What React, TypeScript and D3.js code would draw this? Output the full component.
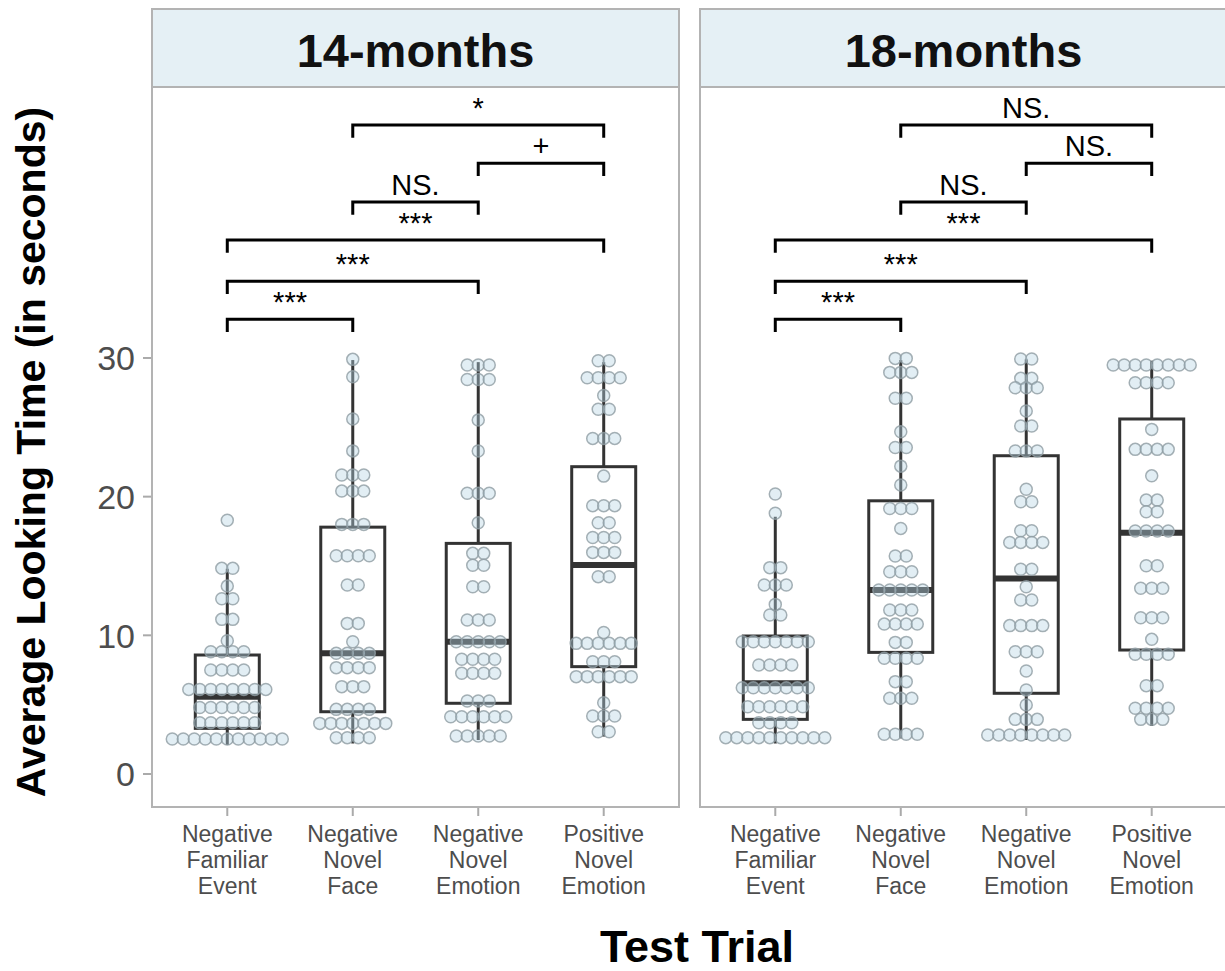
import * as d3 from 'd3';

const [W, H] = [1225, 971];

const facets = ['14-months', '18-months'];
const categories = [
  ['Negative', 'Familiar', 'Event'],
  ['Negative', 'Novel', 'Face'],
  ['Negative', 'Novel', 'Emotion'],
  ['Positive', 'Novel', 'Emotion'],
];
const yTicks = [0, 10, 20, 30];

// dotplot bins: [value, count]
const dots14NFE = [[18.3, 1], [14.83, 2], [13.55, 1], [12.64, 2], [11.15, 2], [9.61, 1], [8.82, 4], [7.5, 4], [6.1, 8], [4.8, 6], [3.7, 6], [2.52, 11]];
const dots14NNF = [[29.9, 1], [28.65, 1], [25.6, 1], [23.3, 1], [21.56, 3], [20.4, 3], [18.0, 3], [15.74, 4], [13.63, 2], [10.86, 2], [9.54, 1], [8.7, 4], [7.67, 4], [6.3, 3], [4.66, 4], [3.65, 7], [2.62, 4]];
const dots14NNE = [[29.49, 3], [28.45, 3], [25.52, 1], [23.29, 1], [20.24, 3], [18.12, 1], [15.91, 2], [15.05, 2], [13.5, 2], [11.1, 3], [9.54, 5], [8.27, 4], [7.26, 4], [5.26, 3], [4.13, 6], [2.74, 5]];
const dots14PNE = [[29.8, 2], [28.57, 4], [27.3, 1], [26.3, 2], [24.2, 3], [21.48, 1], [19.35, 3], [18.12, 2], [17.06, 3], [15.98, 3], [14.23, 2], [10.2, 1], [9.42, 6], [8.1, 3], [7.02, 6], [5.14, 1], [4.18, 3], [3.05, 2]];
const dots18NFE = [[20.19, 1], [18.8, 1], [14.88, 2], [13.63, 3], [12.23, 1], [11.46, 2], [9.54, 7], [7.86, 4], [6.22, 7], [4.85, 6], [3.7, 4], [2.62, 10]];
const dots18NNF = [[29.97, 2], [28.96, 3], [27.09, 2], [24.68, 1], [23.55, 2], [22.2, 1], [20.84, 1], [19.15, 3], [17.71, 1], [15.72, 2], [14.59, 3], [13.27, 5], [11.82, 3], [10.81, 4], [9.49, 2], [8.34, 4], [6.66, 2], [5.46, 3], [2.86, 4]];
const dots18NNE = [[29.92, 2], [28.53, 2], [27.85, 3], [26.17, 1], [25.09, 2], [23.29, 3], [20.53, 1], [19.63, 2], [17.54, 2], [16.7, 4], [14.76, 2], [13.5, 1], [12.55, 2], [10.7, 4], [8.82, 3], [7.43, 1], [6.06, 1], [4.97, 1], [3.94, 3], [2.81, 8]];
const dots18PNE = [[29.49, 8], [28.21, 4], [24.85, 1], [23.41, 4], [21.5, 1], [19.75, 2], [18.91, 2], [17.52, 4], [15.02, 2], [13.39, 3], [11.27, 3], [9.71, 1], [8.63, 4], [6.37, 2], [4.74, 4], [3.94, 3]];

// boxes: [lower whisker, q1, median, q3, upper whisker]
const box14 = [[2.1, 3.29, 5.57, 8.58, 14.8], [2.2, 4.49, 8.7, 17.8, 29.85], [2.45, 5.1, 9.54, 16.63, 29.7], [2.7, 7.74, 15.07, 22.16, 29.7]];
const box18 = [[2.2, 3.94, 6.54, 9.95, 18.55], [2.57, 8.77, 13.27, 19.7, 29.85], [2.45, 5.82, 14.1, 22.95, 29.9], [3.46, 8.94, 17.4, 25.6, 29.8]];

// significance brackets
const bracketPairs = [[1, 3], [2, 3], [1, 2], [0, 3], [0, 2], [0, 1]];
const bracketY = [46.8, 44.05, 41.24, 38.5, 35.54, 32.8];
const labels14 = ['*', '+', 'NS.', '***', '***', '***'];
const labels18 = ['NS.', 'NS.', 'NS.', '***', '***', '***'];

const dots = [[dots14NFE, dots14NNF, dots14NNE, dots14PNE], [dots18NFE, dots18NNF, dots18NNE, dots18PNE]];
const boxes = [box14, box18];
const bracketLabels = [labels14, labels18];

const panelX = [152, 700];
const panelW = 527;
const [top, bottom, stripTop] = [87, 807, 9];
const font = '"Liberation Sans", Arial, sans-serif';

function Panel({f}: {f: number}) {
  const x0 = panelX[f];
  const x = d3.scalePoint<number>().domain(d3.range(categories.length)).range([x0, x0 + panelW]).padding(0.6);
  const y = d3.scaleLinear().domain([-2.38, 49.54]).range([bottom, top]);
  const boxW = x.step() * 0.51;
  const drop = y(0) - y(0.92);
  return (
    <g>
      <rect x={x0} y={stripTop} width={panelW} height={top - stripTop} fill="#e5f0f5" stroke="#b3b3b3" strokeWidth={2} />
      <text x={x0 + panelW / 2} y={67} textAnchor="middle" fontSize={47} fontWeight="bold" fontFamily={font} fill="#111">{facets[f]}</text>
      <rect x={x0} y={top} width={panelW} height={bottom - top} fill="#fff" stroke="#b3b3b3" strokeWidth={2} />
      {categories.map((c, i) => (
        <g key={i}>
          <line x1={x(i)} x2={x(i)} y1={bottom + 1} y2={bottom + 9} stroke="#aaa" strokeWidth={2} />
          {c.map((s, j) => (
            <text key={j} x={x(i)} y={842 + j * 26} textAnchor="middle" fontSize={23} fontFamily={font} fill="#4d4d4d">{s}</text>
          ))}
        </g>
      ))}
      {boxes[f].map((b, i) => {
        const cx = x(i)!;
        return (
          <g key={i} stroke="#333" fill="none">
            <line x1={cx} x2={cx} y1={y(b[0])} y2={y(b[1])} strokeWidth={3} />
            <line x1={cx} x2={cx} y1={y(b[3])} y2={y(b[4])} strokeWidth={3} />
            <rect x={cx - boxW / 2} y={y(b[3])} width={boxW} height={y(b[1]) - y(b[3])} strokeWidth={3} fill="#fff" />
            <line x1={cx - boxW / 2} x2={cx + boxW / 2} y1={y(b[2])} y2={y(b[2])} strokeWidth={6} />
          </g>
        );
      })}
      {dots[f].map((g, i) =>
        g.flatMap(([v, n], k) =>
          d3.range(n).map(j => (
            <circle key={`${i}-${k}-${j}`} cx={x(i)! + (j - (n - 1) / 2) * 11} cy={y(v)} r={6}
              fill="#b7d5e4" fillOpacity={0.4} stroke="#8e9ca2" strokeOpacity={0.8} strokeWidth={1.5} />
          ))
        )
      )}
      {bracketPairs.map(([a, b], k) => {
        const yy = y(bracketY[k]);
        return (
          <g key={k}>
            <path d={`M${x(a)},${yy + drop}V${yy}H${x(b)}V${yy + drop}`} fill="none" stroke="#000" strokeWidth={3} />
            <text x={(x(a)! + x(b)!) / 2} y={yy - 7} textAnchor="middle" fontSize={29} fontFamily={font} fill="#000">{bracketLabels[f][k]}</text>
          </g>
        );
      })}
      {f === 0 && yTicks.map(t => (
        <g key={t}>
          <line x1={x0 - 9} x2={x0 - 1} y1={y(t)} y2={y(t)} stroke="#aaa" strokeWidth={2} />
          <text x={x0 - 17} y={y(t)} dy="0.36em" textAnchor="end" fontSize={34} fontFamily={font} fill="#4d4d4d">{t}</text>
        </g>
      ))}
    </g>
  );
}

export default function App() {
  return (
    <svg width={W} height={H} style={{position: 'absolute', left: 0, top: 0, background: '#fff'}}>
      <rect width={W} height={H} fill="#fff" />
      {facets.map((_, f) => <Panel key={f} f={f} />)}
      <text transform={`translate(45,452) rotate(-90)`} textAnchor="middle" fontSize={41} fontWeight="bold" fontFamily={font} fill="#000">
        Average Looking Time (in seconds)
      </text>
      <text x={697} y={962} textAnchor="middle" fontSize={45} fontWeight="bold" fontFamily={font} fill="#000">Test Trial</text>
    </svg>
  );
}
